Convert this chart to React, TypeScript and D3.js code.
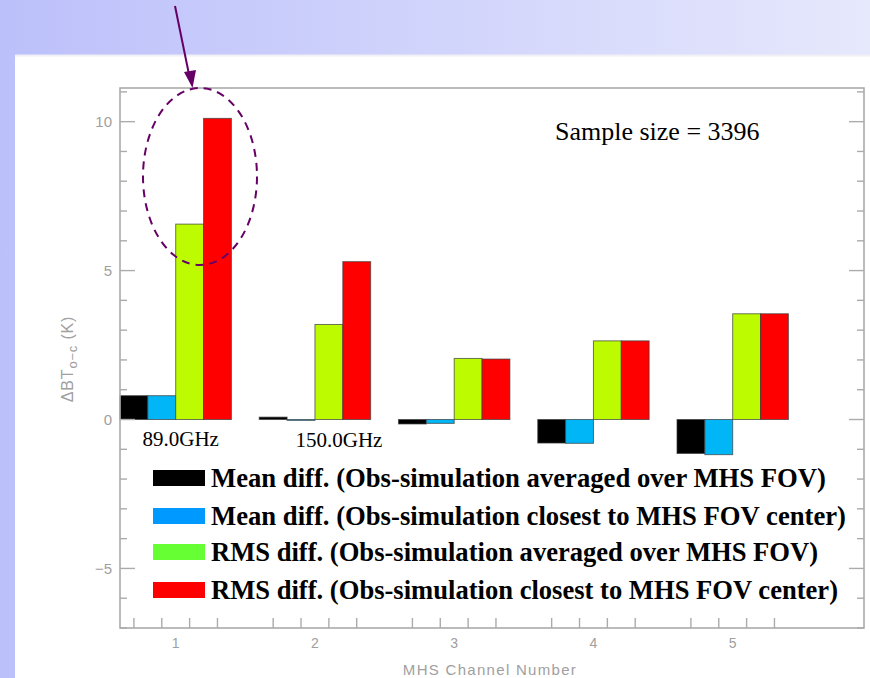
import React, { useEffect, useRef } from "react";
import * as d3 from "d3";

// MHS channels and the four difference statistics (K)
const channels = [1, 2, 3, 4, 5];
const meanAveraged = [0.8, 0.08, -0.15, -0.79, -1.14];
const meanClosest = [0.8, -0.03, -0.13, -0.8, -1.18];
const rmsAveraged = [6.56, 3.19, 2.05, 2.64, 3.55];
const rmsClosest = [10.11, 5.3, 2.03, 2.64, 3.55];

const seriesNames = [
  "Mean diff. (Obs-simulation averaged over MHS FOV)",
  "Mean diff. (Obs-simulation closest to MHS FOV center)",
  "RMS diff. (Obs-simulation averaged over MHS FOV)",
  "RMS diff. (Obs-simulation closest to MHS FOV center)",
];
const barColors = ["#000000", "#00b6f6", "#bdfc00", "#ff0000"];
const legendColors = ["#000000", "#0099ff", "#66ff33", "#ff0000"];
const legendWidths = [615, 635, 607, 627];
const channelLabels = ["89.0GHz", "150.0GHz"];
const yMajorTicks = [-5, 0, 5, 10];

const W = 870;
const H = 678;
const SERIF = "'Liberation Serif', 'Times New Roman', Times, serif";
const SANS = "'Liberation Sans', Arial, sans-serif";

export default function App() {
  const ref = useRef<SVGSVGElement | null>(null);

  useEffect(() => {
    const svg = d3.select(ref.current);
    svg.selectAll("*").remove();

    const left = 120, right = 864, top = 88, bottom = 628;
    const x = d3.scaleLinear().domain([0.6, 5.943]).range([left, right]);
    const y = d3.scaleLinear().domain([-7, 11.13]).range([bottom, top]);
    const barW = 0.2;
    const series = [meanAveraged, meanClosest, rmsAveraged, rmsClosest];

    // slide background
    const defs = svg.append("defs");
    const grad = defs.append("linearGradient").attr("id", "bg").attr("x1", "0").attr("x2", "1");
    grad.append("stop").attr("offset", "0").attr("stop-color", "#bcc0fa");
    grad.append("stop").attr("offset", "1").attr("stop-color", "#e6e8fc");
    svg.append("rect").attr("width", W).attr("height", H).attr("fill", "url(#bg)");
    svg.append("rect").attr("x", 15).attr("y", 55).attr("width", W - 15).attr("height", H - 55).attr("fill", "#ffffff");
    svg.append("line").attr("x1", 15).attr("x2", W).attr("y1", 55.5).attr("y2", 55.5).attr("stroke", "#f0f0f6").attr("stroke-width", 2);

    // bars
    const g = svg.append("g");
    series.forEach((vals, si) => {
      g.selectAll(null)
        .data(vals)
        .enter()
        .append("rect")
        .attr("x", (_, i) => x(channels[i] - 0.4 + si * barW))
        .attr("width", x(barW) - x(0))
        .attr("y", (d) => y(Math.max(0, d)))
        .attr("height", (d) => Math.max(0.8, Math.abs(y(d) - y(0))))
        .attr("fill", barColors[si])
        .attr("stroke", "#3a3a3a")
        .attr("stroke-opacity", 0.7)
        .attr("stroke-width", 1);
    });

    // frame
    const axisColor = "#ababab";
    svg.append("rect")
      .attr("x", left).attr("y", top)
      .attr("width", right - left).attr("height", bottom - top)
      .attr("fill", "none").attr("stroke", axisColor).attr("stroke-width", 1.6);

    // y ticks on both sides
    const yTicks = d3.range(-7, 12);
    yTicks.forEach((t) => {
      const len = yMajorTicks.includes(t) ? 15 : 7;
      svg.append("line").attr("x1", left).attr("x2", left + len)
        .attr("y1", y(t)).attr("y2", y(t)).attr("stroke", axisColor).attr("stroke-width", 1.4);
      svg.append("line").attr("x1", right).attr("x2", right - len)
        .attr("y1", y(t)).attr("y2", y(t)).attr("stroke", axisColor).attr("stroke-width", 1.4);
    });
    yMajorTicks.forEach((t) => {
      svg.append("text").attr("x", left - 8).attr("y", y(t)).attr("dy", "0.36em")
        .attr("text-anchor", "end").attr("font-family", SANS)
        .attr("font-size", 15).attr("fill", "#a0a0a0").text(t < 0 ? "\u2212" + Math.abs(t) : String(t));
    });

    // x ticks at bar centres
    channels.forEach((c) => {
      [-0.3, -0.1, 0.1, 0.3].forEach((o) => {
        svg.append("line").attr("x1", x(c + o)).attr("x2", x(c + o))
          .attr("y1", bottom).attr("y2", bottom - 10).attr("stroke", axisColor).attr("stroke-width", 1.4);
      });
      svg.append("text").attr("x", x(c)).attr("y", bottom + 20)
        .attr("text-anchor", "middle").attr("font-family", SANS)
        .attr("font-size", 14).attr("fill", "#a0a0a0").text(String(c));
    });

    // axis titles
    svg.append("text").attr("x", 490).attr("y", 675)
      .attr("text-anchor", "middle").attr("font-family", SANS)
      .attr("font-size", 15).attr("fill", "#a0a0a0").attr("letter-spacing", 1.3).text("MHS Channel Number");
    const yl = svg.append("text").attr("transform", "translate(73,359) rotate(-90)")
      .attr("text-anchor", "middle").attr("font-family", SANS)
      .attr("font-size", 16).attr("fill", "#a0a0a0").attr("letter-spacing", 0.8);
    yl.append("tspan").text("\u0394BT");
    yl.append("tspan").attr("dy", 4).attr("font-size", 13).text("o\u2212c");
    yl.append("tspan").attr("dy", -4).text(" (K)");

    // annotations
    svg.append("text").attr("x", 555).attr("y", 140)
      .attr("font-family", SERIF)
      .attr("font-size", 26).attr("fill", "#000").text("Sample size = 3396");
    channelLabels.forEach((lab, i) => {
      svg.append("text").attr("x", x(channels[i]) + (i === 0 ? 5 : 24)).attr("y", 446 + i)
        .attr("text-anchor", "middle")
        .attr("font-family", SERIF)
        .attr("font-size", 21).attr("fill", "#000").text(lab);
    });

    // legend
    const legendRows = [478, 516, 552, 590];
    seriesNames.forEach((name, i) => {
      svg.append("rect").attr("x", 153).attr("y", legendRows[i] - 8)
        .attr("width", 52).attr("height", 16).attr("fill", legendColors[i]);
      svg.append("text").attr("x", 211).attr("y", legendRows[i] + 9)
        .attr("font-family", SERIF)
        .attr("font-weight", "bold").attr("font-size", 27.5).attr("fill", "#000")
        .attr("textLength", legendWidths[i]).attr("lengthAdjust", "spacingAndGlyphs")
        .text(name);
    });

    // highlight on channel 1
    const purple = "#660066";
    svg.append("ellipse").attr("cx", 200).attr("cy", 176.5).attr("rx", 57).attr("ry", 88.5)
      .attr("fill", "none").attr("stroke", purple).attr("stroke-width", 2)
      .attr("stroke-dasharray", "8,6");
    svg.append("line").attr("x1", 175).attr("y1", 6).attr("x2", 188.5).attr("y2", 72)
      .attr("stroke", purple).attr("stroke-width", 2);
    svg.append("path").attr("d", "M192.5,88 L184,72 L196,70 Z").attr("fill", purple);
  }, []);

  return (
    <svg
      ref={ref}
      width={W}
      height={H}
      style={{ position: "absolute", left: 0, top: 0, display: "block" }}
    />
  );
}
